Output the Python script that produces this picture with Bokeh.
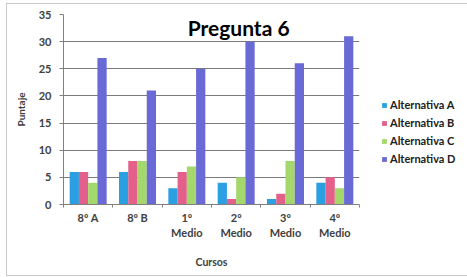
from bokeh.plotting import figure
from bokeh.models import ColumnDataSource, FixedTicker, Legend, LegendItem, Label, Range1d
from bokeh.transform import dodge
from bokeh.embed import file_html
from bokeh.resources import INLINE
import numpy as np

cursos = ["8º A", "8º B", "1º\nMedio", "2º\nMedio", "3º\nMedio", "4º\nMedio"]
alt_a = [6, 6, 3, 4, 1, 4]
alt_b = [6, 8, 6, 1, 2, 5]
alt_c = [4, 8, 7, 5, 8, 3]
alt_d = [27, 21, 25, 30, 26, 31]
series_names = ["Alternativa A", "Alternativa B", "Alternativa C", "Alternativa D"]
colors = ["#2a9fe2", "#e2608a", "#a4d86c", "#6a6ad6"]
y_ticks = [0, 5, 10, 15, 20, 25, 30, 35]

xc = list(np.arange(len(cursos)) + 0.5)
src = ColumnDataSource(dict(x=xc, a=alt_a, b=alt_b, c=alt_c, d=alt_d))

FONT = "Lato"
p = figure(width=455, height=271, output_backend="svg", toolbar_location=None,
           x_range=Range1d(0, len(cursos)), y_range=Range1d(0, 35),
           min_border_left=56, min_border_right=103, min_border_top=10, min_border_bottom=71)
p.frame_width = 296
p.frame_height = 190
p.outline_line_color = None
p.styles = {"border": "1px solid #c8c8c8", "margin-left": "6px", "margin-top": "3px"}

w = 0.1875
offsets = [-0.28125, -0.09375, 0.09375, 0.28125]
keys = ["a", "b", "c", "d"]
renderers = []
for k, off, col in zip(keys, offsets, colors):
    r = p.vbar(x=dodge("x", off), top=k, width=w, source=src, fill_color=col, line_color=None)
    renderers.append(r)

# axes
p.xaxis.ticker = FixedTicker(ticks=xc, minor_ticks=list(range(len(cursos) + 1)))
p.xaxis.major_label_overrides = {float(x): lab for x, lab in zip(xc, cursos)}
p.xaxis.major_tick_out = 0
p.xaxis.major_tick_in = 0
p.xaxis.minor_tick_out = 3
p.xaxis.minor_tick_in = 0
p.xaxis.axis_line_color = "#808080"
p.xaxis.minor_tick_line_color = "#808080"
p.xaxis.major_label_text_font = FONT
p.xaxis.major_label_text_font_size = "11px"
p.xaxis.major_label_text_font_style = "bold"
p.xaxis.major_label_text_color = "#404040"
p.xaxis.major_label_standoff = 3
p.xaxis.axis_label = "Cursos"
p.xaxis.axis_label_text_font = FONT
p.xaxis.axis_label_text_font_size = "10.5px"
p.xaxis.axis_label_text_font_style = "bold"
p.xaxis.axis_label_text_color = "#404040"
p.xaxis.axis_label_standoff = 14

p.yaxis.ticker = FixedTicker(ticks=y_ticks)
p.yaxis.minor_tick_line_color = None
p.yaxis.major_tick_out = 4
p.yaxis.major_tick_in = 0
p.yaxis.axis_line_color = "#808080"
p.yaxis.major_tick_line_color = "#808080"
p.yaxis.major_label_text_font = FONT
p.yaxis.major_label_text_font_size = "11px"
p.yaxis.major_label_text_font_style = "bold"
p.yaxis.major_label_text_color = "#404040"
p.yaxis.major_label_standoff = 8
p.yaxis.axis_label = "Puntaje"
p.yaxis.axis_label_text_font = FONT
p.yaxis.axis_label_text_font_size = "10px"
p.yaxis.axis_label_text_font_style = "bold"
p.yaxis.axis_label_text_color = "#404040"
p.yaxis.axis_label_standoff = 9

p.xgrid.grid_line_color = None
p.ygrid.ticker = FixedTicker(ticks=y_ticks)
p.ygrid.grid_line_color = "#7a7a7a"
p.ygrid.grid_line_width = 1

title = Label(x=3.55, y=32.6, text="Pregunta 6", text_align="center", text_baseline="middle",
              text_font=FONT, text_font_size="21px", text_font_style="bold", text_color="#000000",
              background_fill_color="white", padding=0)
p.add_layout(title)

legend = Legend(items=[LegendItem(label=n, renderers=[r]) for n, r in zip(series_names, renderers)],
                location=(22, 39), border_line_color=None, background_fill_alpha=0,
                glyph_width=6, glyph_height=6, label_standoff=3, spacing=5, padding=0,
                label_text_font=FONT, label_text_font_size="11px", label_text_font_style="bold",
                label_text_color="#202020", label_height=12)
p.add_layout(legend, "right")

open("out.html", "w").write(file_html(p, INLINE))
